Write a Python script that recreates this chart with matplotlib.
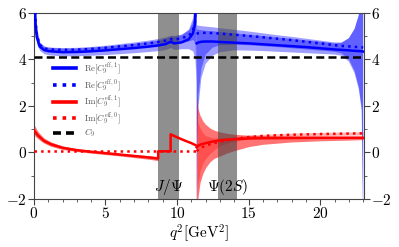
"""Re/Im of C9 effective vs q^2 with uncertainty bands."""

import matplotlib

matplotlib.use("Agg")
import matplotlib.pyplot as plt
from matplotlib.ticker import FuncFormatter, MultipleLocator

plt.rcParams["mathtext.fontset"] = "cm"
plt.rcParams["font.family"] = "serif"
plt.rcParams["font.serif"] = ["DejaVu Serif"]

# --- data ---
C9 = 4.1
jpsi_band = (8.68, 10.11)
psi2s_band = (12.86, 14.18)

# real part, below the c-cbar threshold
q2_A = [0.0, 0.05, 0.1, 0.2, 0.4, 0.7, 1.0, 2.0, 3.0, 4.0, 5.0, 6.0, 7.0, 8.0,
        8.68, 9.2, 9.55, 9.8, 10.3, 10.8, 11.1, 11.25, 11.33]
re1_A = [9.0, 6.6, 5.6, 4.95, 4.55, 4.4, 4.35, 4.3, 4.31, 4.34, 4.38, 4.43, 4.48,
         4.54, 4.59, 4.65, 4.75, 4.68, 4.72, 4.85, 5.1, 5.5, 7.0]
re1_A_hi = [9.0, 7.5, 6.2, 5.3, 4.72, 4.57, 4.52, 4.47, 4.48, 4.52, 4.56, 4.62, 4.68,
            4.76, 4.82, 4.9, 5.0, 4.98, 5.05, 5.3, 5.8, 6.8, 9.0]
re1_A_lo = [9.0, 5.9, 5.1, 4.65, 4.38, 4.24, 4.19, 4.14, 4.15, 4.17, 4.2, 4.24, 4.28,
            4.33, 4.37, 4.42, 4.5, 4.42, 4.45, 4.45, 4.35, 4.0, 3.0]
re0_A = [9.0, 6.8, 5.8, 5.05, 4.62, 4.46, 4.42, 4.4, 4.41, 4.44, 4.49, 4.55, 4.61,
         4.68, 4.74, 4.8, 4.86, 4.84, 4.9, 5.0, 5.2, 5.6, 7.2]
re0_A_hi = [9.0, 7.4, 6.2, 5.3, 4.74, 4.56, 4.52, 4.5, 4.51, 4.55, 4.6, 4.67, 4.74,
            4.82, 4.89, 4.96, 5.03, 5.02, 5.08, 5.25, 5.6, 6.6, 9.0]
re0_A_lo = [9.0, 6.3, 5.5, 4.85, 4.5, 4.36, 4.32, 4.3, 4.31, 4.33, 4.38, 4.43, 4.48,
            4.54, 4.59, 4.64, 4.69, 4.66, 4.72, 4.78, 4.85, 4.7, 3.5]

# real part, above the threshold
q2_B = [11.37, 11.42, 11.5, 11.7, 12.0, 12.5, 13.0, 14.0, 15.0, 16.0, 17.0, 18.0,
        19.0, 20.0, 21.0, 21.5, 22.0, 22.4, 22.7, 22.9, 23.0]
re1_B = [4.68, 4.7, 4.72, 4.75, 4.76, 4.76, 4.74, 4.71, 4.68, 4.64, 4.6, 4.56, 4.52,
         4.47, 4.42, 4.4, 4.38, 4.36, 4.35, 4.34, 4.33]
re1_B_hi = [5.3, 5.28, 5.26, 5.24, 5.22, 5.2, 5.17, 5.11, 5.05, 4.99, 4.93, 4.87,
            4.81, 4.75, 4.68, 4.7, 4.9, 5.3, 5.9, 6.8, 9.0]
re1_B_lo = [-3.0, 0.5, 2.0, 3.2, 3.8, 4.15, 4.3, 4.38, 4.37, 4.35, 4.32, 4.29, 4.26,
            4.23, 4.2, 4.15, 3.9, 3.4, 2.7, 1.8, -3.0]
re0_B = [5.08, 5.1, 5.12, 5.13, 5.13, 5.12, 5.1, 5.05, 5.0, 4.94, 4.88, 4.82, 4.75,
         4.68, 4.6, 4.57, 4.55, 4.53, 4.52, 4.51, 4.5]
re0_B_hi = [5.45, 5.45, 5.44, 5.42, 5.4, 5.37, 5.33, 5.26, 5.19, 5.11, 5.03, 4.96,
            4.88, 4.8, 4.72, 4.72, 4.9, 5.3, 5.9, 6.8, 9.0]
re0_B_lo = [-3.0, 1.0, 2.5, 3.6, 4.2, 4.5, 4.6, 4.62, 4.6, 4.56, 4.52, 4.47, 4.42,
            4.37, 4.32, 4.25, 4.0, 3.5, 2.8, 1.9, -3.0]

# imaginary part, below the threshold
q2_imA = [0.0, 0.3, 0.7, 1.2, 2.0, 3.0, 4.0, 5.0, 6.0, 7.0, 8.0, 8.68, 8.68, 9.55,
          9.55, 10.0, 10.5, 11.0, 11.33]
im1_A = [0.95, 0.72, 0.5, 0.35, 0.2, 0.1, 0.03, -0.03, -0.09, -0.15, -0.21, -0.26,
         0.05, 0.05, 0.78, 0.65, 0.52, 0.4, 0.3]
im1_A_hi = [1.2, 0.88, 0.62, 0.45, 0.28, 0.16, 0.08, 0.02, -0.04, -0.09, -0.14,
            -0.18, 0.05, 0.05, 0.8, 0.67, 0.54, 0.42, 0.32]
im1_A_lo = [0.75, 0.58, 0.4, 0.26, 0.13, 0.04, -0.03, -0.09, -0.15, -0.22, -0.29,
            -0.35, 0.05, 0.05, 0.76, 0.63, 0.5, 0.38, 0.28]
q2_im0A = [0.0, 11.33]
im0_A = [0.05, 0.05]

# imaginary part, above the threshold
q2_imB = [11.37, 11.45, 11.6, 11.8, 12.0, 12.3, 12.6, 13.0, 13.5, 14.0, 15.0, 16.0,
          18.0, 20.0, 22.0, 23.0]
im1_B = [0.22, 0.28, 0.33, 0.37, 0.4, 0.44, 0.48, 0.52, 0.55, 0.57, 0.6, 0.61, 0.62,
         0.63, 0.63, 0.63]
im1_B_hi = [2.4, 1.9, 1.6, 1.35, 1.2, 1.05, 0.95, 0.88, 0.82, 0.78, 0.74, 0.72, 0.71,
            0.7, 0.7, 0.7]
im1_B_lo = [-3.0, -2.0, -1.3, -0.9, -0.65, -0.4, -0.25, -0.15, -0.02, 0.08, 0.25,
            0.35, 0.45, 0.5, 0.53, 0.55]
im0_B = [0.05, 0.1, 0.17, 0.24, 0.29, 0.35, 0.4, 0.46, 0.52, 0.57, 0.66, 0.71, 0.76,
         0.79, 0.81, 0.82]
im0_B_hi = [1.6, 1.3, 1.05, 0.85, 0.72, 0.65, 0.62, 0.62, 0.64, 0.67, 0.74, 0.78,
            0.83, 0.86, 0.88, 0.89]
im0_B_lo = [-2.5, -1.4, -0.8, -0.45, -0.25, -0.05, 0.12, 0.28, 0.4, 0.47, 0.58,
            0.64, 0.69, 0.72, 0.74, 0.75]

BLUE = "#0000ff"
RED = "#ff0000"

fig = plt.figure(figsize=(3.99, 2.47), dpi=100)
ax = fig.add_axes([0.085, 0.194, 0.827, 0.755])

# uncertainty bands
for q, lo, hi in [(q2_A, re1_A_lo, re1_A_hi), (q2_A, re0_A_lo, re0_A_hi),
                  (q2_B, re1_B_lo, re1_B_hi), (q2_B, re0_B_lo, re0_B_hi)]:
    ax.fill_between(q, lo, hi, color=BLUE, alpha=0.38, lw=0, zorder=1)
for q, lo, hi in [(q2_imA, im1_A_lo, im1_A_hi), (q2_imB, im1_B_lo, im1_B_hi)]:
    ax.fill_between(q, lo, hi, color=RED, alpha=0.55, lw=0, zorder=1)
ax.fill_between(q2_imB, im0_B_lo, im0_B_hi, color=RED, alpha=0.3, lw=0, zorder=1)

# resonance vetoes
for lo, hi in (jpsi_band, psi2s_band):
    ax.axvspan(lo, hi, color="#444444", alpha=0.6, lw=0, zorder=2)

# central values
ax.plot(q2_A, re1_A, color=BLUE, lw=1.8, zorder=3,
        label=r"$\mathrm{Re}[C_9^{\rm eff,1}]$")
ax.plot(q2_B, re1_B, color=BLUE, lw=1.8, zorder=3)
ax.plot(q2_A, re0_A, color=BLUE, lw=1.8, ls=":", zorder=3,
        label=r"$\mathrm{Re}[C_9^{\rm eff,0}]$")
ax.plot(q2_B, re0_B, color=BLUE, lw=1.8, ls=":", zorder=3)
ax.plot(q2_imA, im1_A, color=RED, lw=1.8, zorder=3,
        label=r"$\mathrm{Im}[C_9^{\rm eff,1}]$")
ax.plot(q2_imB, im1_B, color=RED, lw=1.8, zorder=3)
ax.plot(q2_im0A, im0_A, color=RED, lw=1.8, ls=":", zorder=3,
        label=r"$\mathrm{Im}[C_9^{\rm eff,0}]$")
ax.plot(q2_imB, im0_B, color=RED, lw=1.8, ls=":", zorder=3)
ax.axhline(C9, color="black", lw=1.8, ls=(0, (3.2, 1.7)), zorder=4, label=r"$C_9$")

ax.text(9.4, -1.5, r"$J/\Psi$", fontsize=11, ha="center", va="center")
ax.text(13.55, -1.5, r"$\Psi(2S)$", fontsize=11, ha="center", va="center")

ax.set_xlim(0, 23.05)
ax.set_ylim(-2, 6)
ax.set_xlabel(r"$q^2[\mathrm{GeV}^2]$", fontsize=11, labelpad=1)
ax.xaxis.set_major_locator(MultipleLocator(5))
ax.xaxis.set_minor_locator(MultipleLocator(1))
ax.yaxis.set_major_locator(MultipleLocator(2))
ax.yaxis.set_minor_locator(MultipleLocator(1))
fmt = FuncFormatter(lambda v, p: r"$%d$" % round(v))
ax.xaxis.set_major_formatter(fmt)
ax.yaxis.set_major_formatter(fmt)
ax.tick_params(which="both", direction="out", right=True, labelright=True,
               labelsize=11, color="#444444", pad=1)
ax.tick_params(which="major", length=4)
ax.tick_params(which="minor", length=2.2)
for s in ax.spines.values():
    s.set_color("#444444")
    s.set_linewidth(0.8)

leg = ax.legend(loc="upper left", bbox_to_anchor=(0.035, 0.786), frameon=False,
                fontsize=6.3, handlelength=2.6, labelspacing=0.0,
                handletextpad=0.9, labelcolor="#555555")
for h in leg.get_lines():
    h.set_linewidth(2.6)
leg.get_lines()[-1].set_dashes([2.2, 1.4])

fig.savefig("out.png", dpi=100)
